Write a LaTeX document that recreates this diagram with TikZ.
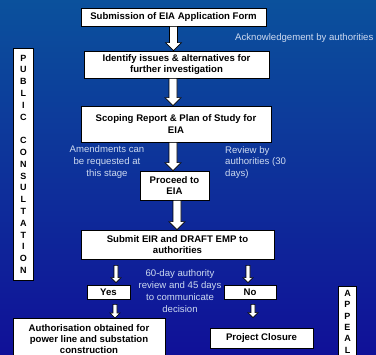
\documentclass[tikz,border=0pt]{standalone}
\usepackage{fontspec}
\setmainfont{Liberation Sans}
\usetikzlibrary{calc}
\definecolor{bgtop}{RGB}{11,81,156}
\definecolor{bgbot}{RGB}{16,16,152}
\definecolor{note}{RGB}{205,218,240}
\tikzset{
  box/.style={draw=black, fill=white, line width=0.75pt, inner sep=0pt, align=center,
    font=\fontsize{9.6}{11.8}\selectfont\bfseries},
  plain/.style={inner sep=0pt, align=center, font=\fontsize{9.6}{11.8}\selectfont\bfseries},
  vbox/.style={draw=black, fill=white, line width=0.75pt, inner sep=0pt, align=center,
    font=\fontsize{9}{11.8}\selectfont\bfseries, minimum width=20pt},
  notetext/.style={text=note, inner sep=0pt, font=\fontsize{9.6}{11.8}\selectfont},
  bigarr/.style={draw=black, fill=white, line width=0.6pt, to path={
    let \p1=(\tikztostart), \p2=(\tikztotarget) in
    (\x1-4pt,\y1) -- (\x1-4pt,\y2+8pt) -- (\x1-8pt,\y2+8pt) -- (\x1,\y2)
    -- (\x1+8pt,\y2+8pt) -- (\x1+4pt,\y2+8pt) -- (\x1+4pt,\y1) -- cycle}},
  smallarr/.style={draw=black, fill=white, line width=0.6pt, to path={
    let \p1=(\tikztostart), \p2=(\tikztotarget) in
    (\x1-2pt,\y1) -- (\x1-2pt,\y2+5pt) -- (\x1-5pt,\y2+5pt) -- (\x1,\y2)
    -- (\x1+5pt,\y2+5pt) -- (\x1+2pt,\y2+5pt) -- (\x1+2pt,\y1) -- cycle}}
}
\begin{document}
\begin{tikzpicture}[x=1pt,y=-1pt]
\useasboundingbox (0,0) rectangle (376,355);
\clip (0,0) rectangle (376,355);
\shade[top color=bgtop, bottom color=bgbot] (0,0) rectangle (376,355);

\node[box, minimum width=185pt, minimum height=18pt] (b1) at (173.5,17) {Submission of EIA Application Form};
\node[box, minimum width=185pt, minimum height=27pt] (b2) at (176.5,64.5) {Identify issues \& alternatives for\\further investigation};
\node[box, minimum width=190pt, minimum height=36pt] (b3) at (176,124) {Scoping Report \& Plan of Study for\\EIA};
\node[box, minimum width=69pt, minimum height=29pt] (b4) at (174.5,185.5) {Proceed to\\EIA};
\node[box, minimum width=193pt, minimum height=29pt] (b5) at (177.5,244.5) {Submit EIR and DRAFT EMP to\\authorities};
\node[box, minimum width=43pt, minimum height=14pt] (yes) at (108.5,292) {Yes};
\node[box, minimum width=52pt, minimum height=14pt] (no) at (250,292) {No};
\node[box, minimum width=152pt, minimum height=50pt, anchor=north] (authbox) at (89,318) {};
\node[plain, font=\fontsize{9.6}{10.9}\selectfont\bfseries, anchor=base] (auth) at (89,353.3)
  {Authorisation obtained for\\power line and substation\\construction};
\node[box, minimum width=103pt, minimum height=20pt] (close) at (261.5,338) {Project Closure};

\node[vbox, minimum height=232pt] (pub) at (23.3,164.2) {P\\U\\B\\L\\I\\C\\[11.8pt]C\\O\\N\\S\\U\\L\\T\\A\\T\\I\\O\\N};
\node[vbox, minimum width=18.5pt, minimum height=80pt, anchor=north] (appbox) at (347.5,286.3) {};
\node[plain, font=\fontsize{9}{11.4}\selectfont\bfseries, anchor=base] (app) at (347.5,353.4) {A\\P\\P\\E\\A\\L};

\node[notetext, anchor=west] (n1) at (235,38) {Acknowledgement by authorities};
\node[notetext, align=center] (n2) at (107,162) {Amendments can\\be requested at\\this stage};
\node[notetext, align=left, anchor=west] (n3) at (225,162.5) {Review by\\authorities (30\\days)};
\node[notetext, align=center] (n4) at (180,291) {60-day authority\\review and 45 days\\to communicate\\decision};

\draw[bigarr] (b1.south) to (b2.north);
\draw[bigarr] ([xshift=-3.5pt]b2.south) to (b3.north);
\draw[bigarr] ([xshift=-3pt]b3.south) to (b4.north);
\draw[bigarr] ([xshift=2.5pt]b4.south) to (b5.north);
\draw[smallarr] ([xshift=-61.5pt,yshift=-6pt]b5.south) to ([yshift=2pt]yes.north);
\draw[smallarr] ([xshift=70.5pt,yshift=-6pt]b5.south) to ([yshift=2pt]no.north);
\draw[smallarr] ([xshift=6.5pt,yshift=-5pt]yes.south) to (authbox.north);
\draw[smallarr] ([xshift=3pt,yshift=-5pt]no.south) to ([yshift=10pt]close.north);
\end{tikzpicture}
\end{document}
